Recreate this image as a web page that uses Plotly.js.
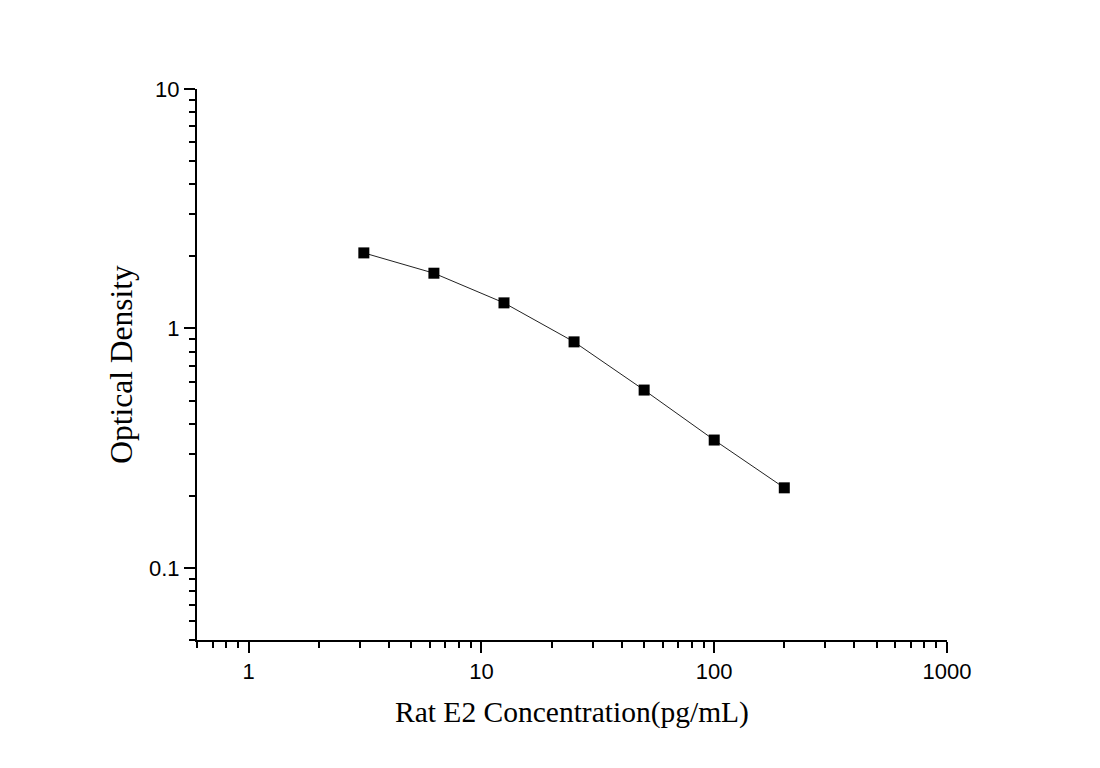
<!DOCTYPE html>
<html>
<head>
<meta charset="utf-8">
<script src="https://cdn.plot.ly/plotly-3.0.1.min.js"></script>
<style>
  html, body { margin: 0; padding: 0; background: #fff; }
  #chart { width: 1100px; height: 768px; }
</style>
</head>
<body>
<div id="chart"></div>
<script>
// Data
var concentration = [3.125, 6.25, 12.5, 25, 50, 100, 200];
var opticalDensity = [2.068, 1.701, 1.279, 0.879, 0.553, 0.342, 0.216];

var xTitle = 'Rat E2 Concentration(pg/mL)';
var yTitle = 'Optical Density';

var trace = {
  x: concentration,
  y: opticalDensity,
  type: 'scatter',
  mode: 'lines+markers',
  line: { color: '#222', width: 1 },
  marker: { symbol: 'square', size: 11, color: '#000' },
  showlegend: false,
  hoverinfo: 'x+y'
};

var tickFont = { family: 'Liberation Sans, Arial, sans-serif', size: 22, color: '#000' };
var xTitleFont = { family: 'Liberation Serif, Times New Roman, serif', size: 29.5, color: '#000' };
var yTitleFont = { family: 'Liberation Serif, Times New Roman, serif', size: 31.5, color: '#000' };

var layout = {
  width: 1100,
  height: 768,
  margin: { l: 197, r: 153, t: 89, b: 128 },
  paper_bgcolor: '#fff',
  plot_bgcolor: '#fff',
  xaxis: {
    type: 'log',
    range: [Math.log10(0.6), 3],
    dtick: 1,
    showgrid: false,
    zeroline: false,
    showline: true,
    linecolor: '#000',
    linewidth: 2,
    ticks: 'outside',
    ticklen: 11,
    tickwidth: 2,
    tickcolor: '#000',
    tickfont: tickFont,
    minor: { ticks: 'outside', ticklen: 6, tickwidth: 2, tickcolor: '#000', dtick: 'D1', showgrid: false },
    title: { text: xTitle, font: xTitleFont, standoff: 18 },
    mirror: false
  },
  yaxis: {
    type: 'log',
    range: [Math.log10(0.05), 1],
    dtick: 1,
    showgrid: false,
    zeroline: false,
    showline: true,
    linecolor: '#000',
    linewidth: 2,
    ticks: 'outside',
    ticklen: 11,
    tickwidth: 2,
    tickcolor: '#000',
    tickfont: tickFont,
    minor: { ticks: 'outside', ticklen: 6, tickwidth: 2, tickcolor: '#000', dtick: 'D1', showgrid: false },
    title: { text: yTitle, font: yTitleFont, standoff: 7 },
    mirror: false
  }
};

Plotly.newPlot('chart', [trace], layout, { displayModeBar: false, staticPlot: true });
</script>
</body>
</html>
